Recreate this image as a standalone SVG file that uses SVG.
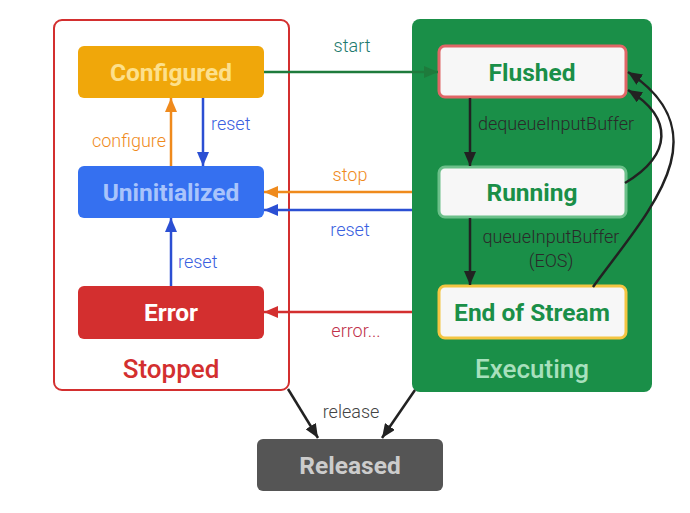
<svg xmlns="http://www.w3.org/2000/svg" width="690" height="513" viewBox="0 0 690 513">
<style>
.node{font-family:Roboto,"Liberation Sans",sans-serif;font-weight:bold;font-size:24.5px;text-anchor:middle}
.lbl{font-family:Roboto,"Liberation Sans",sans-serif;font-weight:300;font-size:18px}
.grp{font-family:Roboto,"Liberation Sans",sans-serif;font-weight:500;font-size:26px;text-anchor:middle}
.e{fill:none;stroke-width:2.5}
</style>
<defs>
<marker id="aG" viewBox="0 0 14 12" refX="14" refY="6" markerWidth="14" markerHeight="12" markerUnits="userSpaceOnUse" orient="auto"><path d="M0,0L14,6L0,12z" fill="#1e7b3c"/></marker>
<marker id="aO" viewBox="0 0 14 12" refX="14" refY="6" markerWidth="14" markerHeight="12" markerUnits="userSpaceOnUse" orient="auto"><path d="M0,0L14,6L0,12z" fill="#ef8a1c"/></marker>
<marker id="aB" viewBox="0 0 14 12" refX="14" refY="6" markerWidth="14" markerHeight="12" markerUnits="userSpaceOnUse" orient="auto"><path d="M0,0L14,6L0,12z" fill="#2b4fd3"/></marker>
<marker id="aR" viewBox="0 0 14 12" refX="14" refY="6" markerWidth="14" markerHeight="12" markerUnits="userSpaceOnUse" orient="auto"><path d="M0,0L14,6L0,12z" fill="#d32f2f"/></marker>
<marker id="aK" viewBox="0 0 14 12" refX="14" refY="6" markerWidth="14" markerHeight="12" markerUnits="userSpaceOnUse" orient="auto"><path d="M0,0L14,6L0,12z" fill="#222222"/></marker>
</defs>
<rect width="690" height="513" fill="#ffffff"/>
<g id="stopped">
<rect x="54" y="20" width="235" height="370" rx="8" fill="#ffffff" stroke="#d32f2f" stroke-width="2"/>
<text class="grp" x="171" y="378" fill="#d32f2f">Stopped</text>
</g>
<g id="executing">
<rect x="412" y="19" width="240" height="373" rx="8" fill="#1a8f48"/>
<text class="grp" x="532" y="378" fill="#a8e0bd">Executing</text>
</g>
<g id="configured">
<rect x="78" y="46" width="186" height="52" rx="6" fill="#f0a70a"/>
<text class="node" x="171" y="81" fill="#fde08c">Configured</text>
</g>
<g id="uninitialized">
<rect x="78" y="166" width="186" height="52" rx="6" fill="#3570f0"/>
<text class="node" x="171" y="201" fill="#a9c4fb">Uninitialized</text>
</g>
<g id="error">
<rect x="78" y="286" width="186" height="53" rx="6" fill="#d32f2f"/>
<text class="node" x="171" y="321" fill="#ffffff">Error</text>
</g>
<g id="flushed">
<rect x="439" y="46" width="187" height="51" rx="6" fill="#f7f7f7" stroke="#e06666" stroke-width="3"/>
<text class="node" x="532" y="81" fill="#1a8f48">Flushed</text>
</g>
<g id="running">
<rect x="439" y="167" width="187" height="50" rx="6" fill="#f7f7f7" stroke="#6cc08a" stroke-width="3"/>
<text class="node" x="532" y="201" fill="#1a8f48">Running</text>
</g>
<g id="eos">
<rect x="439" y="286" width="187" height="52" rx="6" fill="#f7f7f7" stroke="#f4c542" stroke-width="3"/>
<text class="node" x="532" y="321" fill="#1a8f48">End of Stream</text>
</g>
<g id="released">
<rect x="257" y="439" width="186" height="52" rx="6" fill="#555555"/>
<text class="node" x="350" y="474" fill="#cccccc">Released</text>
</g>
<g id="connectors">
<path class="e" d="M264,72H438" stroke="#1e7b3c" marker-end="url(#aG)"/>
<text class="lbl" x="352" y="52" fill="#1e7a6e" text-anchor="middle">start</text>
<path class="e" d="M171,166V98" stroke="#ef8a1c" marker-end="url(#aO)"/>
<text class="lbl" x="166" y="147" fill="#ef8a1c" text-anchor="end">configure</text>
<path class="e" d="M203,98V166" stroke="#2b4fd3" marker-end="url(#aB)"/>
<text class="lbl" x="211" y="130" fill="#3a5fe0">reset</text>
<path class="e" d="M412,192H264" stroke="#ef8a1c" marker-end="url(#aO)"/>
<text class="lbl" x="350" y="181" fill="#ef8a1c" text-anchor="middle">stop</text>
<path class="e" d="M412,210H264" stroke="#2b4fd3" marker-end="url(#aB)"/>
<text class="lbl" x="350" y="236" fill="#3a5fe0" text-anchor="middle">reset</text>
<path class="e" d="M171,286V218" stroke="#2b4fd3" marker-end="url(#aB)"/>
<text class="lbl" x="178" y="268" fill="#3a5fe0">reset</text>
<path class="e" d="M412,312H264" stroke="#d32f2f" marker-end="url(#aR)"/>
<text class="lbl" x="356" y="337" fill="#c0304a" text-anchor="middle">error...</text>
<path class="e" d="M470,98V166" stroke="#222222" marker-end="url(#aK)"/>
<text class="lbl" x="478" y="130" fill="#2a2a2a">dequeueInputBuffer</text>
<path class="e" d="M470,218V285" stroke="#222222" marker-end="url(#aK)"/>
<text class="lbl" x="551" y="243" fill="#2a2a2a" text-anchor="middle">queueInputBuffer</text>
<text class="lbl" x="551" y="267" fill="#2a2a2a" text-anchor="middle">(EOS)</text>
<path class="e" d="M625,183C672,155 674,118 628,90" stroke="#222222" marker-end="url(#aK)"/>
<path class="e" d="M593,287C645,215 725,135 628,72" stroke="#222222" marker-end="url(#aK)"/>
<path class="e" d="M288,389L318,438" stroke="#222222" marker-end="url(#aK)"/>
<path class="e" d="M415,390L382,438" stroke="#222222" marker-end="url(#aK)"/>
<text class="lbl" x="351" y="418" fill="#444444" text-anchor="middle">release</text>
</g>
</svg>
